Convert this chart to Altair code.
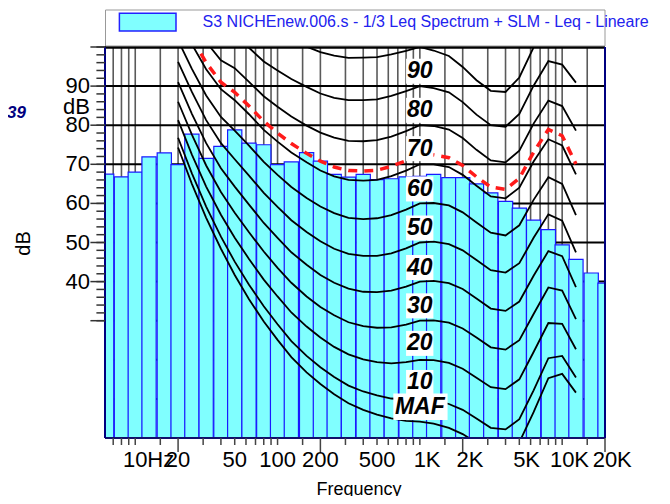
import altair as alt
import pandas as pd

# ---------------- data ----------------
band_hz = [6.3, 8, 10, 12.5, 16, 20, 25, 31.5, 40, 50, 63, 80, 100, 125, 160, 200, 250, 315,
           400, 500, 630, 800, 1000, 1250, 1600, 2000, 2500, 3150, 4000, 5000, 6300, 8000,
           10000, 12500, 16000, 20000]
band_db = [67.5, 66.8, 68.0, 71.9, 72.9, 69.9, 77.7, 71.5, 74.6, 78.8, 75.4, 75.0, 69.9, 70.6,
           73.0, 70.8, 67.4, 66.7, 67.4, 66.1, 66.3, 66.8, 66.9, 67.4, 66.6, 66.6, 65.0, 62.7,
           60.5, 58.8, 55.7, 53.3, 49.4, 45.7, 42.2, 39.6]

contour_hz = [20, 25, 31.5, 40, 50, 63, 80, 100, 125, 160, 200, 250, 315, 400, 500, 630, 800,
              1000, 1250, 1600, 2000, 2500, 3150, 4000, 5000, 6300, 8000, 10000, 12500]
maf = [74.3, 65.0, 56.3, 48.4, 41.7, 35.5, 29.8, 25.1, 20.7, 16.8, 13.8, 11.2, 8.9, 7.2, 6.0,
       5.0, 4.4, 4.2, 3.7, 2.6, 1.0, -1.2, -3.6, -3.9, -1.1, 6.6, 15.3, 16.4, 11.6]
p10 = [76.8, 67.7, 59.2, 51.5, 45.1, 39.2, 33.7, 29.1, 24.8, 21.0, 18.1, 15.6, 13.4, 11.9, 10.9,
       10.1, 9.9, 10.0, 9.7, 8.7, 7.2, 5.0, 2.6, 2.2, 4.8, 12.2, 20.4, 21.0, 15.5]
p20 = [81.3, 72.5, 64.3, 57.1, 51.2, 45.8, 40.5, 36.2, 32.1, 28.5, 25.7, 23.3, 21.4, 20.1, 19.4,
       19.1, 19.4, 20.0, 19.9, 19.2, 17.7, 15.4, 13.0, 12.5, 15.0, 22.0, 29.4, 29.2, 22.7]
p30 = [86.0, 77.6, 69.7, 62.9, 57.6, 52.6, 47.7, 43.5, 39.7, 36.2, 33.5, 31.4, 29.6, 28.6, 28.2,
       28.3, 29.0, 30.0, 30.1, 29.5, 28.0, 25.7, 23.2, 22.6, 25.0, 31.7, 38.5, 37.7, 30.4]
p40 = [91.0, 82.9, 75.4, 69.0, 64.3, 59.7, 55.0, 51.2, 47.5, 44.3, 41.7, 39.7, 38.2, 37.4, 37.3,
       37.7, 38.7, 40.0, 40.2, 39.6, 38.1, 35.7, 33.1, 32.5, 34.9, 41.5, 47.8, 46.5, 38.6]
p50 = [96.2, 88.5, 81.3, 75.4, 71.3, 67.1, 62.7, 59.1, 55.7, 52.7, 50.3, 48.4, 47.1, 46.6, 46.6,
       47.2, 48.5, 50.0, 50.2, 49.6, 48.0, 45.5, 42.9, 42.3, 44.7, 51.2, 57.2, 55.6, 47.5]
p60 = [101.7, 94.4, 87.6, 82.1, 78.6, 74.8, 70.6, 67.3, 64.2, 61.4, 59.2, 57.5, 56.3, 56.0, 56.2,
       57.0, 58.4, 60.0, 60.1, 59.5, 57.7, 55.1, 52.5, 51.8, 54.4, 60.9, 66.7, 65.0, 57.0]
p70 = [107.6, 100.7, 94.3, 89.2, 86.4, 82.8, 78.8, 75.8, 73.0, 70.5, 68.4, 66.9, 66.0, 65.8, 66.0,
       67.0, 68.4, 70.0, 70.0, 69.3, 67.3, 64.5, 61.8, 61.3, 64.0, 70.7, 76.4, 74.8, 67.4]
p80 = [None, 107.3, 101.3, 96.6, 94.6, 91.1, 87.4, 84.7, 82.2, 79.9, 78.1, 76.8, 76.0, 75.9, 76.2,
       77.1, 78.5, 80.0, 79.8, 78.9, 76.7, 73.7, 71.0, 70.5, 73.5, 80.4, 86.3, 84.9, 78.6]
p90 = [None, None, 108.7, 104.4, 103.2, 99.8, 96.3, 94.0, 91.8, 89.8, 88.1, 87.0, 86.4, 86.4, 86.6,
       87.5, 88.7, 90.0, 89.5, 88.4, 85.9, 82.7, 80.0, 79.6, 82.9, 90.1, 96.4, 95.5, 90.9]
p100 = [None, None, None, 112.6, 112.3, 108.9, 105.6, 103.6, 101.8, 100.1, 98.7, 97.8, 97.2, 97.3,
        97.4, 98.1, 99.0, 100.0, 99.1, 97.7, 94.9, 91.5, 88.8, 88.5, 92.2, 99.9, 106.6, 106.4, 104.3]
red_contour = [109.1, 102.3, 96.0, 91.0, 88.4, 84.9, 81.0, 78.0, 75.3, 72.8, 70.8, 69.3, 68.4, 68.3,
               68.5, 69.5, 70.9, 72.5, 72.4, 71.7, 69.7, 66.8, 64.2, 63.6, 66.4, 73.1, 78.9, 77.3, 70.1]

contour_names = ["MAF", "10", "20", "30", "40", "50", "60", "70", "80", "90", "100"]
contour_values = [maf, p10, p20, p30, p40, p50, p60, p70, p80, p90, p100]

contour_label_text = ["90", "80", "70", "60", "50", "40", "30", "20", "10", "MAF"]
contour_label_db = [93.8, 83.8, 74.0, 63.7, 53.7, 43.6, 33.8, 24.2, 14.2, 8.0]

x_minor_ticks = [7, 8, 9, 10, 15, 30, 40, 50, 60, 70, 80, 90, 100, 150, 300, 400, 500, 600, 700,
                 800, 900, 1000, 1500, 3000, 4000, 5000, 6000, 7000, 8000, 9000, 10000, 15000]
x_major_ticks = [20, 200, 2000, 20000]
x_label_hz = [10, 20, 50, 100, 200, 500, 1000, 2000, 5000, 10000, 20000]
x_label_num = ["10", "20", "50", "100", "200", "500", "1", "2", "5", "10", "20"]
x_label_unit = ["Hz", "", "", "", "", "", "K", "K", "K", "K", "K"]

y_label_db = [40, 50, 60, 70, 80, 90]
y_major_ticks = [30, 40, 50, 60, 70, 80, 90, 100]
y_minor_ticks = list(range(30, 101, 2))
grid_db = [10, 20, 30, 40, 50, 60, 70, 80, 90]

legend_text = "S3 NICHEnew.006.s - 1/3 Leq Spectrum + SLM - Leq - Lineare"
F_MIN, F_MAX = 6.13, 20000

# ---------------- chart ----------------
FONT = "Liberation Sans"
W, H = 500, 391
xs = alt.Scale(type="log", domain=[F_MIN, F_MAX], nice=False)
ys = alt.Scale(domain=[0, 100], nice=False, zero=False)


def X(field):
    return alt.X(field, type="quantitative", scale=xs, axis=None)


def Y(field):
    return alt.Y(field, type="quantitative", scale=ys, axis=None)


third = 10 ** 0.05
df_bars = pd.DataFrame({"f": band_hz, "db": band_db})
df_bars["lo"] = df_bars["f"] / third
df_bars["hi"] = df_bars["f"] * third
df_bars["base"] = 0

rows = []
for name, vals in zip(contour_names, contour_values):
    for f, v in zip(contour_hz, vals):
        if v is not None:
            rows.append({"curve": name, "f": f, "db": v})
df_cont = pd.DataFrame(rows)
df_red = pd.DataFrame({"f": contour_hz, "db": red_contour})

df_lab = pd.DataFrame({"label": contour_label_text, "db": contour_label_db})
df_lab["f"] = 1000
df_lab["blo"] = [651 if t == "MAF" else 800 for t in contour_label_text]
df_lab["bhi"] = [1566 if t == "MAF" else 1245 for t in contour_label_text]
df_lab["ylo"] = [d - (3.4 if t == "MAF" else 3.2) for t, d in zip(contour_label_text, contour_label_db)]
df_lab["yhi"] = [d + (3.4 if t == "MAF" else 3.2) for t, d in zip(contour_label_text, contour_label_db)]

grid_v = alt.Chart(pd.DataFrame({"f": x_minor_ticks + x_major_ticks})).mark_rule(
    color="#5a5a5a", strokeWidth=1.6).encode(x=X("f"))
grid_h = alt.Chart(pd.DataFrame({"db": grid_db})).mark_rule(
    color="black", strokeWidth=2).encode(y=Y("db"))
bars = alt.Chart(df_bars).mark_rect(
    clip=True, fill="#80ffff", stroke="#1a1aff", strokeWidth=1.2).encode(
    x=X("lo"), x2="hi", y=Y("db"), y2="base")
lines = alt.Chart(df_cont).mark_line(clip=True, color="black", strokeWidth=1.8).encode(
    x=X("f"), y=Y("db"), detail="curve:N")
red = alt.Chart(df_red).mark_line(
    clip=True, color="#ff1a1a", strokeWidth=3.5, strokeDash=[9, 7]).encode(x=X("f"), y=Y("db"))
boxes = alt.Chart(df_lab).mark_rect(fill="white").encode(
    x=X("blo"), x2="bhi", y=Y("ylo"), y2="yhi")
labels = alt.Chart(df_lab).mark_text(
    font=FONT, fontSize=23, fontWeight="bold", fontStyle="italic", color="black",
    align="center", baseline="middle").encode(x=X("f"), y=Y("db"), text="label:N")

top_border = alt.Chart(pd.DataFrame({"db": [100]})).mark_rule(
    color="black", strokeWidth=3.5).encode(y=Y("db"))
bottom_border = alt.Chart(pd.DataFrame({"db": [0]})).mark_rule(
    color="#10106a", strokeWidth=2).encode(y=Y("db"))
side_border = alt.Chart(pd.DataFrame({"f": [F_MIN, F_MAX]})).mark_rule(
    color="#000080", strokeWidth=2).encode(x=X("f"))

# y axis (drawn by hand)
y_minor = alt.Chart(pd.DataFrame({"db": y_minor_ticks})).mark_rule(
    color="#333333", strokeWidth=1.5).encode(y=Y("db"), x=alt.value(-8.6), x2=alt.value(0))
y_major = alt.Chart(pd.DataFrame({"db": y_major_ticks})).mark_rule(
    color="#333333", strokeWidth=1.5).encode(y=Y("db"), x=alt.value(-14.6), x2=alt.value(0))
y_labels = alt.Chart(pd.DataFrame({"db": y_label_db, "t": [str(v) for v in y_label_db]})).mark_text(
    font=FONT, fontSize=22, align="right", baseline="middle", color="black").encode(
    y=Y("db"), x=alt.value(-15), text="t:N")
y_unit = alt.Chart(pd.DataFrame({"db": [84.7], "t": ["dB"]})).mark_text(
    font=FONT, fontSize=22, align="right", baseline="middle", color="black").encode(
    y=Y("db"), x=alt.value(-15), text="t:N")
y_title = alt.Chart(pd.DataFrame({"t": ["dB"]})).mark_text(
    font=FONT, fontSize=20, angle=270, align="center", baseline="middle", color="black").encode(
    x=alt.value(-81), y=alt.value(196.5), text="t:N")

# x axis (drawn by hand)
x_minor = alt.Chart(pd.DataFrame({"f": x_minor_ticks})).mark_rule(
    color="#444444", strokeWidth=1.5).encode(x=X("f"), y=alt.value(H), y2=alt.value(H + 7))
x_major = alt.Chart(pd.DataFrame({"f": x_major_ticks})).mark_rule(
    color="#444444", strokeWidth=1.5).encode(x=X("f"), y=alt.value(H), y2=alt.value(H + 14))
df_xl = pd.DataFrame({"f": x_label_hz, "num": x_label_num, "unit": x_label_unit})
x_nums = alt.Chart(df_xl).mark_text(
    font=FONT, fontSize=22, align="center", baseline="alphabetic", color="black").encode(
    x=X("f"), y=alt.value(420), text="num:N")
df_u1 = df_xl[(df_xl["unit"] != "") & (df_xl["num"].str.len() == 1)]
df_u2 = df_xl[(df_xl["unit"] != "") & (df_xl["num"].str.len() == 2)]
x_units1 = alt.Chart(df_u1).mark_text(
    font=FONT, fontSize=22, align="left", baseline="alphabetic", color="black", dx=6).encode(
    x=X("f"), y=alt.value(420), text="unit:N")
x_units2 = alt.Chart(df_u2).mark_text(
    font=FONT, fontSize=22, align="left", baseline="alphabetic", color="black", dx=12).encode(
    x=X("f"), y=alt.value(420), text="unit:N")
x_title = alt.Chart(pd.DataFrame({"t": ["Frequency"]})).mark_text(
    font=FONT, fontSize=18, align="center", baseline="alphabetic", color="black").encode(
    x=alt.value(254), y=alt.value(448), text="t:N")

# legend box at top
leg_box = alt.Chart(pd.DataFrame({"a": [0]})).mark_rect(
    fill="white", stroke="#999999", strokeWidth=1).encode(
    x=alt.value(0.5), x2=alt.value(W), y=alt.value(-37), y2=alt.value(-1))
leg_swatch = alt.Chart(pd.DataFrame({"a": [0]})).mark_rect(
    fill="#80ffff", stroke="#2222ff", strokeWidth=1.5).encode(
    x=alt.value(14.4), x2=alt.value(71), y=alt.value(-33.7), y2=alt.value(-16))
leg_text = alt.Chart(pd.DataFrame({"t": [legend_text]})).mark_text(
    font=FONT, fontSize=16, align="left", baseline="alphabetic", color="#2222ee").encode(
    x=alt.value(97.6), y=alt.value(-20.3), text="t:N")
side_note = alt.Chart(pd.DataFrame({"t": ["39"]})).mark_text(
    font=FONT, fontSize=17, fontWeight="bold", fontStyle="italic", align="right",
    baseline="alphabetic", color="#000080").encode(
    x=alt.value(-79), y=alt.value(71), text="t:N")

chart = alt.layer(
    grid_v, grid_h, bars, lines, red, boxes, labels,
    top_border, bottom_border, side_border,
    y_minor, y_major, y_labels, y_unit, y_title,
    x_minor, x_major, x_nums, x_units1, x_units2, x_title,
    leg_box, leg_swatch, leg_text, side_note,
).properties(
    width=W, height=H,
    padding={"left": 97, "top": 39, "right": 56, "bottom": 58},
    autosize=alt.AutoSizeParams(type="none"),
    background="white",
).configure_view(stroke=None)

chart.save("out.html", embed_options={"renderer": "svg", "actions": False})
